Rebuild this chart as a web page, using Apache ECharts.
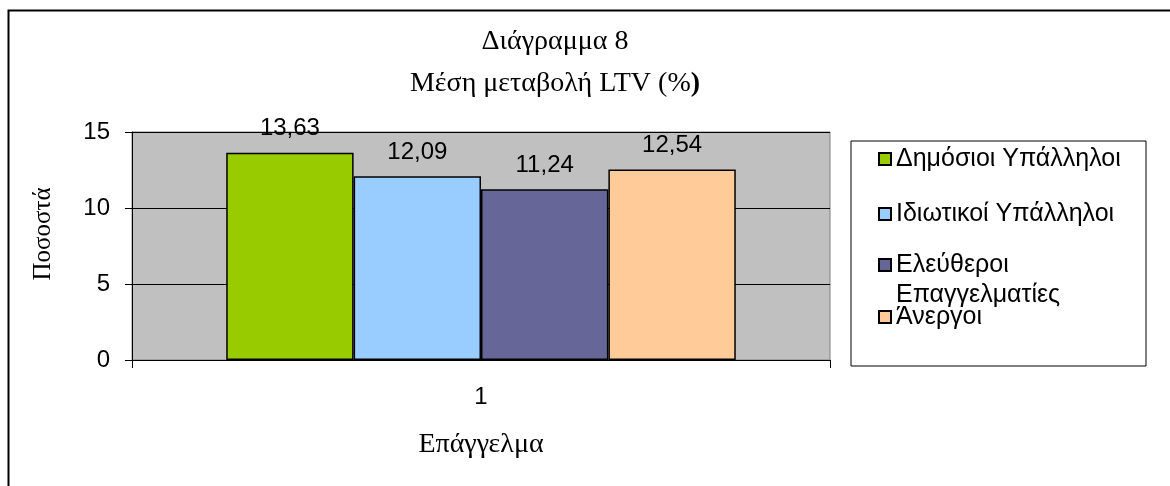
<!DOCTYPE html>
<html>
<head>
<meta charset="utf-8">
<script src="https://cdn.jsdelivr.net/npm/echarts@6/dist/echarts.min.js"></script>
<style>
  html, body { margin: 0; padding: 0; background: #ffffff; }
  #chart { width: 1170px; height: 486px; }
</style>
</head>
<body>
<div id="chart"></div>
<script>
// Category on the x axis (a single group)
const categories = ['1'];
// Occupation groups shown as bars
const seriesNames = ['Δημόσιοι Υπάλληλοι', 'Ιδιωτικοί Υπάλληλοι', 'Ελεύθεροι Επαγγελματίες', 'Άνεργοι'];
// Average LTV change (%) per group
const seriesValues = [13.63, 12.09, 11.24, 12.54];
const seriesColors = ['#99CC00', '#99CCFF', '#666699', '#FFCC99'];
// Y axis range
const yMin = 0, yMax = 15, yStep = 5;

const sans = '"Liberation Sans", Arial, sans-serif';
const serif = '"Liberation Serif", "Times New Roman", serif';
const sansSize = 24;
const serifSize = 28;

const chart = echarts.init(document.getElementById('chart'));

const series = seriesNames.map((name, i) => ({
  name: name,
  type: 'bar',
  data: [seriesValues[i]],
  barGap: '0%',
  barCategoryGap: '27%',
  itemStyle: { color: seriesColors[i], borderColor: '#000', borderWidth: 1.5 },
  label: {
    show: true,
    position: 'top',
    distance: 12,
    fontFamily: sans,
    fontSize: sansSize,
    color: '#000',
    formatter: p => p.value.toFixed(2).replace('.', ',')
  }
}));

// Legend entries, one per row; the long name wraps with its icon beside the first line
const legendCenters = [159, 214, 265, 317];
const legends = seriesNames.map((name, i) => {
  const wrapped = i === 2;
  const lh = wrapped ? 30 : 26;
  const blockH = wrapped ? lh * 3 : lh;
  return {
    data: [name],
    orient: 'vertical',
    left: 878,
    top: legendCenters[i] - blockH / 2,
    padding: 0,
    icon: 'rect',
    itemWidth: 12,
    itemHeight: 12,
    itemGap: 0,
    selectedMode: false,
    // an empty first line keeps the icon level with the first word
    formatter: wrapped ? (n => '\n' + n.replace(' ', '\n')) : (n => n),
    textStyle: { fontFamily: sans, fontSize: 25, color: '#000', lineHeight: lh }
  };
});

chart.setOption({
  animation: false,
  backgroundColor: '#ffffff',
  grid: {
    left: 132, right: 340, top: 132, bottom: 126,
    show: true,
    backgroundColor: '#C0C0C0',
    borderColor: '#808080',
    borderWidth: 1
  },
  legend: legends,
  xAxis: {
    type: 'category',
    data: categories,
    name: 'Επάγγελμα',
    nameLocation: 'middle',
    nameGap: 71,
    nameTextStyle: { fontFamily: serif, fontSize: serifSize, color: '#000' },
    axisLine: { lineStyle: { color: '#000', width: 1 } },
    axisTick: { show: true, length: 8, lineStyle: { color: '#000' } },
    axisLabel: { fontFamily: sans, fontSize: sansSize, color: '#000', margin: 25 }
  },
  yAxis: {
    type: 'value',
    min: yMin, max: yMax, interval: yStep,
    name: 'Ποσοστά',
    nameLocation: 'middle',
    nameGap: 76,
    nameTextStyle: { fontFamily: serif, fontSize: 25, color: '#000', padding: [0, 0, 0, 24] },
    axisLine: { show: true, lineStyle: { color: '#000', width: 1 } },
    axisTick: { show: true, length: 7, lineStyle: { color: '#000' } },
    axisLabel: { fontFamily: sans, fontSize: sansSize, color: '#000', margin: 22 },
    splitLine: { show: true, lineStyle: { color: '#000', width: 1 } }
  },
  series: series,
  graphic: [
    // outer frame
    { type: 'rect', left: 6, top: 8, z: 100, silent: true,
      shape: { x: 0, y: 0, width: 1200, height: 500 },
      style: { fill: 'none', stroke: '#000', lineWidth: 2 } },
    // legend box
    { type: 'rect', z: 0, silent: true,
      shape: { x: 851, y: 141, width: 295, height: 225 },
      style: { fill: 'none', stroke: '#000', lineWidth: 1 } },
    // title lines
    { type: 'text', silent: true,
      style: { x: 555, y: 42, text: 'Διάγραμμα 8', align: 'center', verticalAlign: 'middle',
               font: serifSize + 'px ' + serif, fill: '#000' } },
    { type: 'text', silent: true,
      style: { x: 555, y: 84, align: 'center', verticalAlign: 'middle',
               text: '{a|Μέση μεταβολή LTV (%}{b|)}',
               rich: {
                 a: { fontFamily: serif, fontSize: serifSize, color: '#000' },
                 b: { fontFamily: serif, fontSize: serifSize, fontWeight: 'bold', color: '#000' }
               } } }
  ]
});
</script>
</body>
</html>
